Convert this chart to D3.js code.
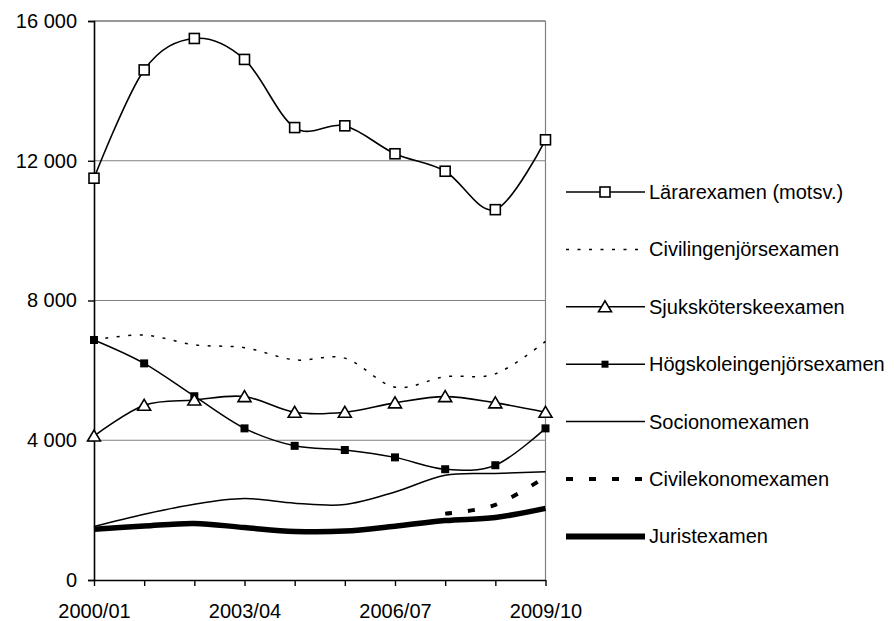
<!DOCTYPE html>
<html><head><meta charset="utf-8">
<script src="https://cdn.jsdelivr.net/npm/d3@7"></script>
<style>
html,body{margin:0;padding:0;background:#fff;}
svg{display:block;font-family:"Liberation Sans",Arial,sans-serif;}
</style></head>
<body>
<svg id="c" width="894" height="621"></svg>
<script>
const years = ["2000/01","2001/02","2002/03","2003/04","2004/05","2005/06","2006/07","2007/08","2008/09","2009/10"];
const xTickLabels = ["2000/01","2003/04","2006/07","2009/10"];
const yTicks = [0,4000,8000,12000,16000];

const lararexamen = [11500,14600,15500,14900,12950,13000,12200,11700,10600,12600];
const civilingenjor = [6870,7010,6730,6650,6300,6350,5520,5820,5900,6830];
const sjukskoterske = [4120,5000,5150,5250,4800,4800,5070,5250,5070,4800];
const hogskoleingenjor = [6870,6200,5260,4340,3840,3720,3510,3170,3285,4340];
const socionom = [1530,1880,2170,2330,2200,2160,2520,3000,3050,3100];
const civilekonom = [null,null,null,null,null,null,null,1900,2150,2950];
const jurist = [1450,1545,1620,1500,1390,1400,1540,1700,1790,2050];

const seriesNames = ["Lärarexamen (motsv.)","Civilingenjörsexamen","Sjuksköterskeexamen","Högskoleingenjörsexamen","Socionomexamen","Civilekonomexamen","Juristexamen"];

const series = [
  {name:seriesNames[0], values:lararexamen, width:1.6, dash:null, marker:"openSquare"},
  {name:seriesNames[1], values:civilingenjor, width:1.5, dash:"3,8.5", marker:null},
  {name:seriesNames[2], values:sjukskoterske, width:1.6, dash:null, marker:"triangle"},
  {name:seriesNames[3], values:hogskoleingenjor, width:1.5, dash:null, marker:"filledSquare"},
  {name:seriesNames[4], values:socionom, width:1.5, dash:null, marker:null},
  {name:seriesNames[5], values:civilekonom, width:4, dash:"7,16", marker:null},
  {name:seriesNames[6], values:jurist, width:5.5, dash:null, marker:null}
];

const FS = 20;
const svg = d3.select("#c");
const x = d3.scalePoint().domain(years).range([94, 545.5]);
const y = d3.scaleLinear().domain([0,16000]).range([580, 21]);
const fmt = d3.formatLocale({decimal:",",thousands:"\u00a0",grouping:[3],currency:["","kr"]}).format(",d");

// gridlines
svg.append("g").selectAll("line").data(yTicks.filter(d=>d>0)).join("line")
  .attr("x1",94).attr("x2",545.5).attr("y1",d=>y(d)).attr("y2",d=>y(d))
  .attr("stroke",d=>d===16000?"#333":"#808080").attr("stroke-width",1.2);
// right border
svg.append("line").attr("x1",545.5).attr("x2",545.5).attr("y1",y(16000)).attr("y2",y(0))
  .attr("stroke","#808080").attr("stroke-width",1.2);

// y axis
const yAxis = d3.axisLeft(y).tickValues(yTicks).tickSize(6).tickPadding(11).tickFormat(fmt);
const gy = svg.append("g").attr("transform","translate(94,0)").call(yAxis);
gy.select(".domain").attr("stroke","#000").attr("stroke-width",1.6);
gy.selectAll(".tick line").attr("stroke","#000").attr("stroke-width",1.4);
gy.selectAll("text").attr("font-size",FS).attr("fill","#000").attr("font-family","Liberation Sans, Arial, sans-serif");

// x axis
const xAxis = d3.axisBottom(x).tickSize(6).tickSizeOuter(0).tickPadding(18)
  .tickFormat(d=>xTickLabels.includes(d)?d:"");
const gx = svg.append("g").attr("transform","translate(0,580)").call(xAxis);
gx.select(".domain").attr("stroke","#000").attr("stroke-width",1.6);
gx.selectAll(".tick line").attr("stroke","#000").attr("stroke-width",1.4);
gx.selectAll("text").attr("font-size",FS).attr("fill","#000").attr("font-family","Liberation Sans, Arial, sans-serif");

const line = d3.line()
  .defined(d=>d.v!=null)
  .x(d=>x(d.year)).y(d=>y(d.v))
  .curve(d3.curveCardinal.tension(0));

function drawMarker(g, type, cx, cy, legend){
  if(type==="openSquare"){
    g.append("rect").attr("x",cx-5).attr("y",cy-5).attr("width",10).attr("height",10)
      .attr("fill","#fff").attr("stroke","#000").attr("stroke-width",1.6);
  } else if(type==="filledSquare"){
    const s = legend?7:8;
    g.append("rect").attr("x",cx-s/2).attr("y",cy-s/2).attr("width",s).attr("height",s)
      .attr("fill","#000");
  } else if(type==="triangle"){
    g.append("path").attr("d",`M${cx},${cy-6}L${cx+6.5},${cy+5}L${cx-6.5},${cy+5}Z`)
      .attr("fill","#fff").attr("stroke","#000").attr("stroke-width",1.6);
  }
}

// draw series in reverse order so the first is on top
const plot = svg.append("g");
[...series].reverse().forEach(s=>{
  const pts = years.map((yr,i)=>({year:yr, v:s.values[i]}));
  plot.append("path").datum(pts).attr("d",line)
    .attr("fill","none").attr("stroke","#000").attr("stroke-width",s.width)
    .attr("stroke-dasharray",s.dash).attr("stroke-linejoin","round");
  if(s.marker){
    const mg = plot.append("g");
    pts.filter(p=>p.v!=null).forEach(p=>drawMarker(mg,s.marker,x(p.year),y(p.v),false));
  }
});

// legend
const lg = svg.append("g");
series.forEach((s,i)=>{
  const ly = 192 + i*57.4;
  lg.append("line").attr("x1",566).attr("x2",645).attr("y1",ly).attr("y2",ly)
    .attr("stroke","#000").attr("stroke-width",s.width===5.5?6:s.width)
    .attr("stroke-dasharray",s.dash);
  if(s.marker) drawMarker(lg,s.marker,605,ly,true);
  lg.append("text").attr("x",649).attr("y",ly).attr("dy","0.35em")
    .attr("font-size",FS).attr("fill","#000").text(s.name);
});
</script>
</body></html>
